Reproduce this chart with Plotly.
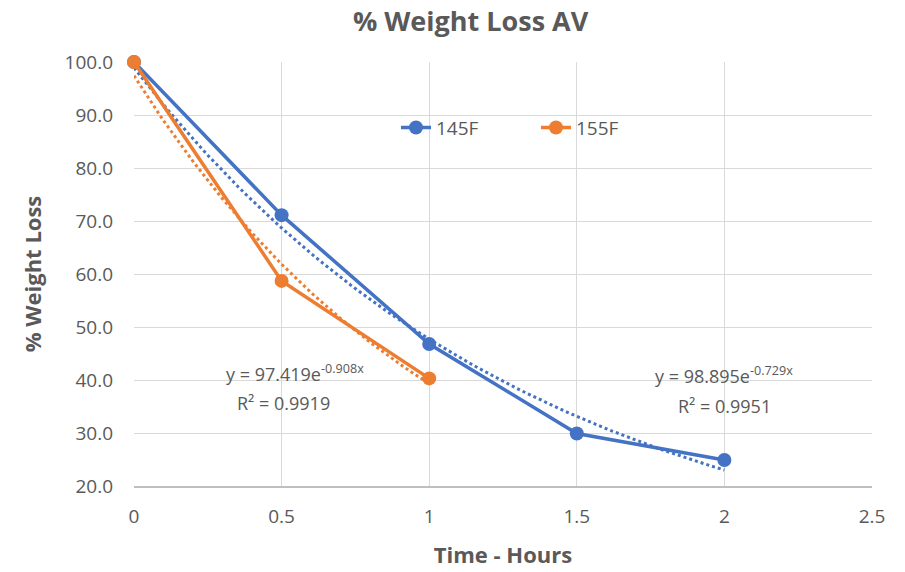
import numpy as np
import plotly.graph_objects as go

# Measured weight-loss data
hours_145 = [0, 0.5, 1, 1.5, 2]
loss_145 = [100.0, 71.1, 46.8, 29.9, 24.9]
hours_155 = [0, 0.5, 1]
loss_155 = [100.0, 58.7, 40.3]

# Exponential trendline coefficients (y = a * e^(b x)) and R²
fit_145 = (98.895, -0.729, 0.9951)
fit_155 = (97.419, -0.908, 0.9919)

x_ticks = [0, 0.5, 1, 1.5, 2, 2.5]
y_ticks = [20, 30, 40, 50, 60, 70, 80, 90, 100]

BLUE = "#4472C4"
ORANGE = "#ED7D31"
GRAY = "#595959"
FONT = "Open Sans"

fig = go.Figure()


def trend(xs, a, b):
    xx = np.linspace(min(xs), max(xs), 80)
    return xx, a * np.exp(b * xx)


tx, ty = trend(hours_145, fit_145[0], fit_145[1])
fig.add_trace(go.Scatter(x=tx, y=ty, mode="lines", showlegend=False, cliponaxis=False,
                         line=dict(color=BLUE, width=3, dash="dot"), hoverinfo="skip"))
tx, ty = trend(hours_155, fit_155[0], fit_155[1])
fig.add_trace(go.Scatter(x=tx, y=ty, mode="lines", showlegend=False, cliponaxis=False,
                         line=dict(color=ORANGE, width=3, dash="dot"), hoverinfo="skip"))

fig.add_trace(go.Scatter(x=hours_145, y=loss_145, mode="lines+markers", name="145F",
                         cliponaxis=False,
                         line=dict(color=BLUE, width=3.5),
                         marker=dict(size=14, color=BLUE)))
fig.add_trace(go.Scatter(x=hours_155, y=loss_155, mode="lines+markers", name="155F",
                         cliponaxis=False,
                         line=dict(color=ORANGE, width=3.5),
                         marker=dict(size=14, color=ORANGE)))


def eq_text(a, b):
    return f"y = {a:.3f}e<sup>{b:.3f}x</sup>"


annots = [
    dict(x=0.545, y=41.3, text=eq_text(fit_155[0], fit_155[1])),
    dict(x=0.505, y=35.6, text=f"R² = {fit_155[2]:.4f}"),
    dict(x=2.0, y=40.9, text=eq_text(fit_145[0], fit_145[1])),
    dict(x=2.0, y=35.1, text=f"R² = {fit_145[2]:.4f}"),
]
for a in annots:
    fig.add_annotation(x=a["x"], y=a["y"], text=a["text"], showarrow=False,
                       xref="x", yref="y",
                       font=dict(family=FONT, size=18, color=GRAY))

fig.update_layout(
    width=905, height=572,
    margin=dict(l=134, r=33, t=62, b=86, autoexpand=False),
    paper_bgcolor="white", plot_bgcolor="white",
    title=dict(text="<b>% Weight Loss AV</b>", x=0.52, xanchor="center",
               y=0.962, yanchor="middle",
               font=dict(family=FONT, size=27, color=GRAY)),
    legend=dict(orientation="h", x=0.355, y=0.845, xanchor="left", yanchor="middle",
                font=dict(family=FONT, size=19, color=GRAY),
                bgcolor="rgba(0,0,0,0)", entrywidth=95, entrywidthmode="pixels"),
    xaxis=dict(range=[0, 2.5], tickvals=x_ticks, ticktext=[str(v) for v in x_ticks],
               automargin=False,
               showgrid=True, gridcolor="#D9D9D9", gridwidth=1,
               showline=True, linecolor="#BFBFBF", linewidth=1.5,
               zeroline=False, ticks="", ticklabelstandoff=12,
               tickfont=dict(family=FONT, size=19, color=GRAY),
               title=dict(text="<b>Time - Hours</b>", standoff=20,
                          font=dict(family=FONT, size=22, color=GRAY))),
    yaxis=dict(range=[20, 100], tickvals=y_ticks, ticktext=[f"{v:.1f}" for v in y_ticks],
               automargin=False,
               showgrid=True, gridcolor="#D9D9D9", gridwidth=1,
               zeroline=False, ticks="", ticklabelstandoff=20,
               tickfont=dict(family=FONT, size=19, color=GRAY),
               title=dict(text="<b>% Weight Loss</b>", standoff=16,
                          font=dict(family=FONT, size=22, color=GRAY))),
)

fig.write_html("out.html")
